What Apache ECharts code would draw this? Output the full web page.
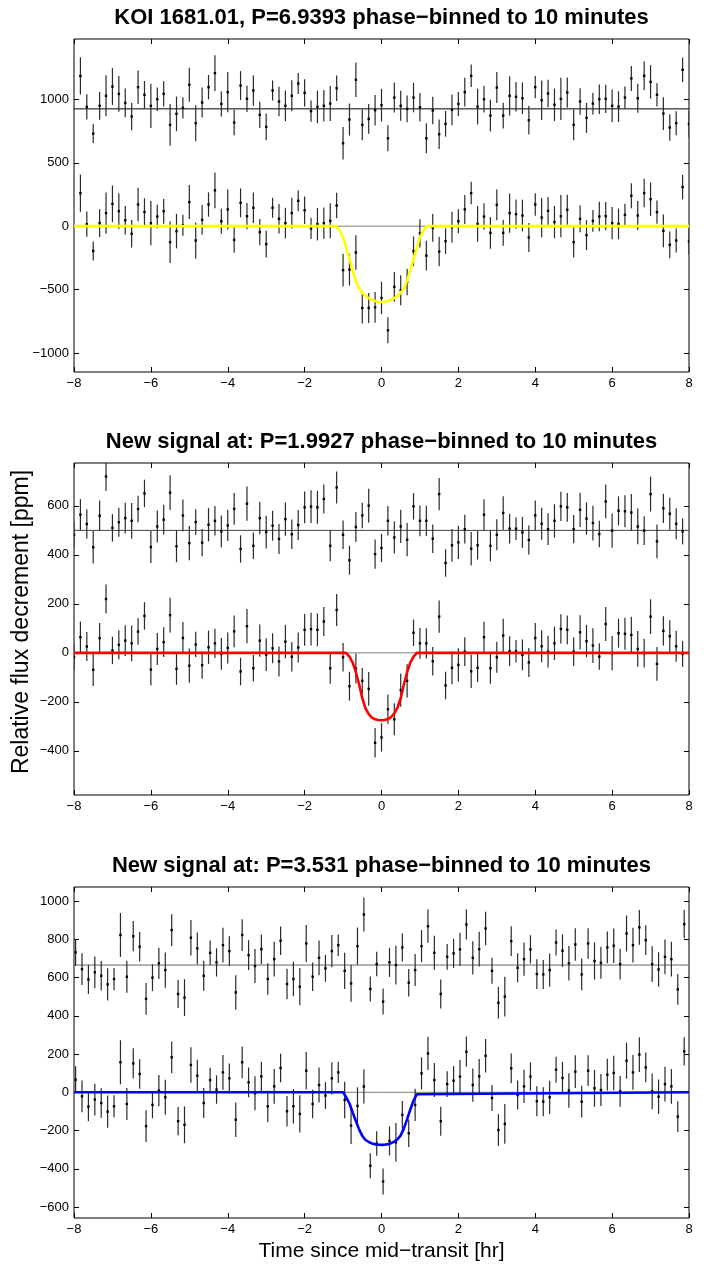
<!DOCTYPE html>
<html>
<head>
<meta charset="utf-8">
<script src="https://cdn.jsdelivr.net/npm/echarts@6/dist/echarts.min.js"></script>
<style>
html,body{margin:0;padding:0;background:#fff}
#main{width:710px;height:1265px}
</style>
</head>
<body>
<div id="main"></div>
<script>
// 10 minute bins, hours
var BIN = 10 / 60;
var xTicks = [-8, -6, -4, -2, 0, 2, 4, 6, 8];

var titles = [
    "KOI 1681.01, P=6.9393 phase\u2212binned to 10 minutes",
    "New signal at: P=1.9927 phase\u2212binned to 10 minutes",
    "New signal at: P=3.531 phase\u2212binned to 10 minutes"
];
// time of first bin in each panel
var firstBin = [-7.8333, -8, -7.9583];
// residual row is drawn shifted up by this much
var offsets = [925, 500, 665];
var yRange = [[-1150, 1476], [-580, 775], [-657, 1073]];
var yTicks1 = [-1000, -500, 0, 500, 1000];
var yTicks2 = [-400, -200, 0, 200, 400, 600];
var yTicks3 = [-600, -400, -200, 0, 200, 400, 600, 800, 1000];

// ---- panel 1 : KOI 1681.01 ----
var resid1 = [260,16,-195,24,103,176,118,47,-60,171,111,24,76,118,-126,-39,8,190,-113,50,
    171,282,39,132,-108,184,79,145,-47,-142,145,58,24,103,200,126,-18,16,24,42,
    163,-271,-84,229,-126,-79,-11,29,-232,89,24,0,89,13,-232,-13,-200,-118,-8,39,
    132,261,18,76,-53,168,-53,103,95,84,-89,171,68,121,32,79,129,-126,58,-71,
    42,76,79,24,18,89,240,84,261,213,111,-37,-147,-113,308,-121];
var flux1 = [260,16,-195,24,103,176,118,47,-60,171,111,24,76,118,-126,-39,8,190,-113,50,
    171,282,39,132,-108,184,79,145,-47,-142,145,58,24,103,200,126,-18,16,24,42,
    163,-347,-342,-208,-645,-645,-640,-566,-821,-479,-505,-440,-197,-57,-232,-13,-200,-118,-8,39,
    132,261,18,76,-53,168,-53,103,95,84,-89,171,68,121,32,79,129,-126,58,-71,
    42,76,79,24,18,89,240,84,261,213,111,-37,-147,-113,308,-121];
var err1 = [147,99,75,109,162,145,141,113,108,132,109,174,93,99,164,136,83,134,142,118,
    96,141,99,158,101,114,103,120,103,105,79,116,121,122,83,108,84,128,124,138,
    100,129,126,136,122,118,121,128,103,118,118,105,116,112,118,109,116,101,121,95,
    114,89,141,105,125,122,101,155,116,125,114,88,155,109,128,167,118,122,105,118,
    86,116,112,128,121,88,99,114,112,132,92,129,105,95,97,105];
var modelX1 = [-8,-1.17,-1.1,-1.0,-0.9,-0.83,-0.75,-0.667,-0.58,-0.5,-0.4,-0.333,-0.25,-0.167,-0.08,0,
    0.08,0.167,0.25,0.333,0.4,0.5,0.58,0.667,0.75,0.83,0.9,1.0,1.1,1.17,8];
var modelY1 = [0,0,-30,-85,-190,-260,-350,-430,-490,-525,-555,-568,-580,-590,-596,-598,
    -596,-590,-580,-568,-555,-525,-490,-430,-350,-260,-190,-85,-30,0,0];

// ---- panel 2 : P=1.9927 ----
var resid2 = [-18,64,26,-69,60,220,10,33,50,39,87,151,-68,16,44,154,-65,61,-52,34,
    -50,23,39,-4,20,88,-76,109,-63,50,-7,19,-35,46,-16,22,94,97,94,128,
    -63,175,-18,-122,14,61,101,-97,-72,39,-29,16,-38,98,39,39,-34,148,-133,-61,
    -49,5,-75,-61,64,-63,-18,71,7,7,-8,-39,61,27,5,39,98,94,5,84,
    48,30,-15,118,-1,80,78,73,16,-1,148,-45,90,68,27,-4];
var flux2 = [-18,64,26,-69,60,220,10,33,50,39,87,151,-68,16,44,154,-65,61,-52,34,
    -50,23,39,-4,20,88,-76,109,-63,50,-7,19,-35,46,-16,22,94,97,94,128,
    -63,175,-18,-136,-64,-114,-147,-367,-345,-230,-271,-152,-114,82,39,39,-34,148,-133,-61,
    -49,5,-75,-61,64,-63,-18,71,7,7,-8,-39,61,27,5,39,98,94,5,84,
    48,30,-15,118,-1,80,78,73,16,-1,148,-45,90,68,27,-4];
var err2 = [54,64,59,66,62,59,56,59,63,73,54,56,65,65,61,71,65,65,70,52,
    56,68,60,65,63,65,56,70,54,66,67,61,61,68,60,61,65,67,67,59,
    63,65,58,59,61,52,69,60,58,60,65,68,68,54,63,62,58,66,56,67,
    68,59,68,58,63,63,63,68,61,46,63,59,61,65,65,68,60,59,58,70,
    66,71,54,69,70,59,65,75,73,59,71,69,60,65,63,53];
var modelX2 = [-8,-0.92,-0.83,-0.75,-0.667,-0.58,-0.5,-0.42,-0.333,-0.25,-0.167,-0.08,0,
    0.08,0.167,0.25,0.333,0.42,0.5,0.58,0.667,0.75,0.83,0.92,8];
var modelY2 = [0,0,-16,-40,-78,-130,-185,-225,-250,-264,-271,-274,-275,
    -274,-270,-262,-247,-222,-185,-130,-78,-40,-16,0,0];

// ---- panel 3 : P=3.531 ----
var resid3 = [66,-21,-75,-38,-56,-101,-73,157,-61,151,96,-177,-66,9,-26,183,-151,-170,143,87,
    -56,64,14,104,73,-143,157,52,-5,83,-73,31,127,-99,-73,-113,113,-61,38,-17,
    73,104,-30,-96,99,264,-125,5,-191,14,0,92,-92,-26,99,203,64,-151,43,61,
    82,212,38,83,191,-30,-197,-165,125,-14,31,82,-47,-49,-26,118,75,9,108,-49,
    113,21,12,92,101,5,165,104,197,130,5,-23,43,31,-127,214];
var flux3 = [66,-21,-75,-38,-56,-101,-73,157,-61,151,96,-177,-66,9,-26,183,-151,-170,143,87,
    -56,64,14,104,73,-143,157,52,-5,83,-73,31,127,-99,-73,-113,113,-61,38,-17,
    73,104,-40,-174,-71,30,-384,-268,-466,-254,-262,-118,-214,-66,99,203,64,-151,43,61,
    82,212,38,83,191,-30,-197,-165,125,-14,31,82,-47,-49,-26,118,75,9,108,-49,
    113,21,12,92,101,5,165,104,197,130,5,-23,43,31,-127,214];
var err3 = [70,83,76,83,77,84,58,115,84,79,77,83,70,82,92,83,74,96,93,83,
    78,64,74,91,78,90,83,78,89,77,82,91,74,80,90,97,97,74,91,70,
    84,56,95,96,97,89,65,64,68,76,101,73,72,84,84,87,89,76,67,76,
    87,79,87,91,88,68,83,104,78,76,87,74,78,76,87,68,85,90,85,83,
    80,97,84,83,90,80,94,91,91,78,93,90,91,91,80,74];
var modelX3 = [-8,-1.0,-0.92,-0.83,-0.75,-0.667,-0.58,-0.5,-0.42,-0.333,-0.25,-0.167,-0.08,0,
    0.08,0.167,0.25,0.333,0.42,0.5,0.58,0.667,0.75,0.83,0.92,0.97,8];
var modelY3 = [0,0,-25,-60,-105,-150,-195,-228,-248,-260,-267,-272,-274,-275,
    -274,-271,-266,-258,-245,-225,-190,-140,-90,-45,-10,0,0];

var panels = [
    {resid: resid1, flux: flux1, err: err1, mx: modelX1, my: modelY1, yTicks: yTicks1, color: "#ffff00", lineColor: "#000", top: 39, height: 333},
    {resid: resid2, flux: flux2, err: err2, mx: modelX2, my: modelY2, yTicks: yTicks2, color: "#ff0000", lineColor: "#444", top: 463, height: 332},
    {resid: resid3, flux: flux3, err: err3, mx: modelX3, my: modelY3, yTicks: yTicks3, color: "#0000ff", lineColor: "#666", top: 887, height: 331}
];

function fmt(v) {
    return v < 0 ? "\u2212" + (-v) : String(v);
}

function drawBar(params, api) {
    var x = api.value(0), y = api.value(1), e = api.value(2);
    var a = api.coord([x, y + e]);
    var b = api.coord([x, y - e]);
    var c = api.coord([x, y]);
    return {
        type: "group",
        children: [
            {type: "line", shape: {x1: a[0], y1: a[1], x2: b[0], y2: b[1]}, style: {stroke: "#2a2a2a", lineWidth: 1.2}},
            {type: "rect", shape: {x: c[0] - 1.2, y: c[1] - 1.2, width: 2.4, height: 2.4}, style: {fill: "#000"}}
        ]
    };
}

var grids = [], xAxes = [], yAxes = [], series = [], graphics = [];
var labelFont = {fontFamily: "Liberation Sans", fontSize: 13, color: "#000"};

panels.forEach(function (p, k) {
    grids.push({left: 74, right: 21, top: p.top, height: p.height, show: true,
        borderColor: "#000", borderWidth: 1, backgroundColor: "#fff"});
    // bottom and top x axes
    [true, false].forEach(function (main) {
        xAxes.push({
            type: "value", gridIndex: k, min: -8, max: 8,
            position: main ? "bottom" : "top",
            axisLine: {show: false, onZero: false},
            splitLine: {show: false},
            axisTick: {show: true, inside: true, length: 5, customValues: xTicks, lineStyle: {color: "#000"}},
            axisLabel: {show: main, customValues: xTicks, formatter: fmt, margin: 5,
                fontFamily: labelFont.fontFamily, fontSize: labelFont.fontSize, color: labelFont.color}
        });
    });
    [true, false].forEach(function (main) {
        yAxes.push({
            type: "value", gridIndex: k, min: yRange[k][0], max: yRange[k][1],
            position: main ? "left" : "right",
            axisLine: {show: false, onZero: false},
            splitLine: {show: false},
            axisTick: {show: true, inside: true, length: 5, customValues: p.yTicks, lineStyle: {color: "#000"}},
            axisLabel: {show: main, customValues: p.yTicks, formatter: fmt, margin: 5,
                fontFamily: labelFont.fontFamily, fontSize: labelFont.fontSize, color: labelFont.color}
        });
    });

    var xi = 2 * k, yi = 2 * k;
    var off = offsets[k];
    var fluxData = [], residData = [], modelData = [];
    for (var i = 0; i < p.flux.length; i++) {
        var t = firstBin[k] + i * BIN;
        fluxData.push([t, p.flux[i], p.err[i]]);
        residData.push([t, p.resid[i] + off, p.err[i]]);
    }
    for (var j = 0; j < p.mx.length; j++) modelData.push([p.mx[j], p.my[j]]);

    series.push({type: "line", xAxisIndex: xi, yAxisIndex: yi, data: [[-8, 0], [8, 0]], symbol: "none",
        silent: true, z: 1, lineStyle: {color: "#7a7a7a", width: 1}});
    series.push({type: "line", xAxisIndex: xi, yAxisIndex: yi, data: [[-8, off], [8, off]], symbol: "none",
        silent: true, z: 1, lineStyle: {color: p.lineColor, width: 1}});
    series.push({type: "custom", xAxisIndex: xi, yAxisIndex: yi, data: fluxData, renderItem: drawBar, clip: true, z: 2});
    series.push({type: "custom", xAxisIndex: xi, yAxisIndex: yi, data: residData, renderItem: drawBar, clip: true, z: 2});
    series.push({type: "line", xAxisIndex: xi, yAxisIndex: yi, data: modelData, symbol: "none",
        silent: true, z: 5, lineStyle: {color: p.color, width: 2.6}});

    graphics.push({type: "text", x: 381.5, y: p.top - 21, z: 10,
        style: {text: titles[k], font: "bold 22px 'Liberation Sans'", fill: "#000",
            textAlign: "center", textVerticalAlign: "middle"}});
});

graphics.push({type: "text", x: 22, y: 622, rotation: Math.PI / 2, z: 10,
    style: {text: "Relative flux decrement [ppm]", font: "23px 'Liberation Sans'", fill: "#000",
        textAlign: "center", textVerticalAlign: "middle"}});
graphics.push({type: "text", x: 381.5, y: 1251, z: 10,
    style: {text: "Time since mid\u2212transit [hr]", font: "21px 'Liberation Sans'", fill: "#000",
        textAlign: "center", textVerticalAlign: "middle"}});

var chart = echarts.init(document.getElementById("main"));
chart.setOption({
    animation: false,
    backgroundColor: "#fff",
    grid: grids,
    xAxis: xAxes,
    yAxis: yAxes,
    series: series,
    graphic: graphics
});
</script>
</body>
</html>
